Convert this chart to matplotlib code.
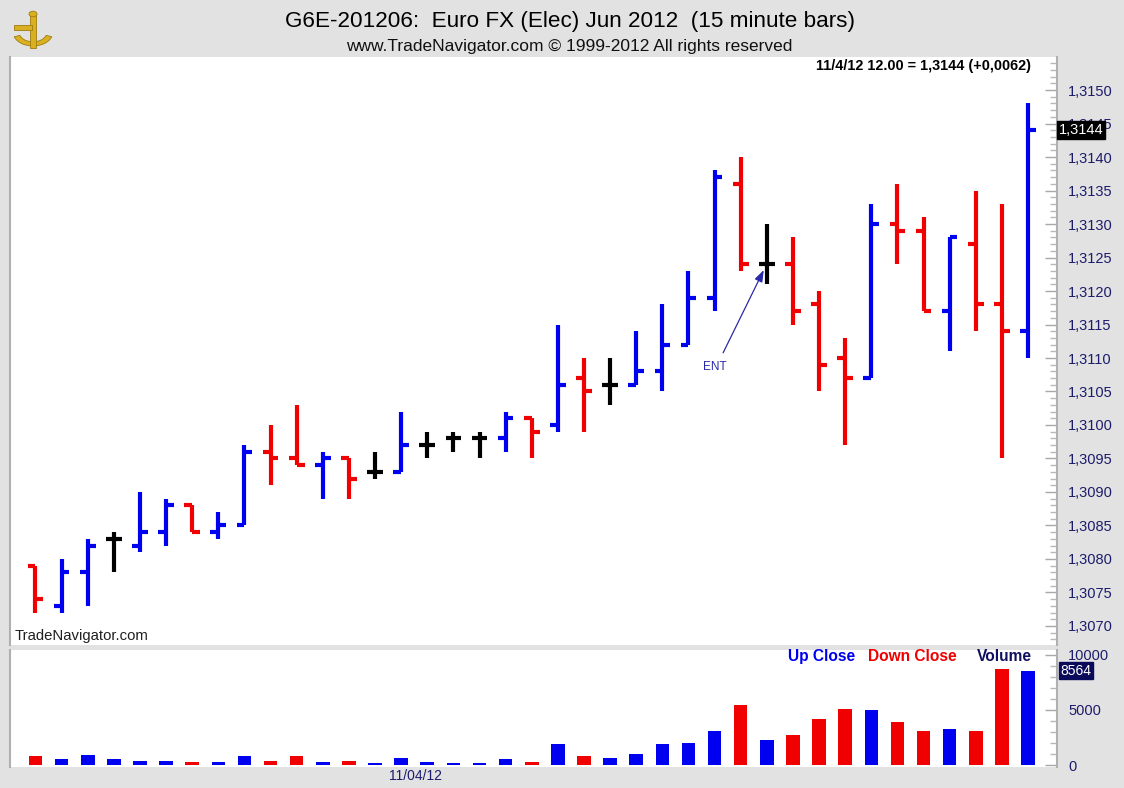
import matplotlib
matplotlib.use("Agg")
import matplotlib.pyplot as plt
import matplotlib.transforms as mtransforms
from matplotlib.ticker import MultipleLocator, FixedLocator, FuncFormatter
from matplotlib.patches import Wedge, Rectangle, Circle

# ---------------- data ----------------
opens = [1.3079, 1.3073, 1.3078, 1.3083, 1.3082, 1.3084, 1.3088, 1.3084, 1.3085, 1.3096,
         1.3095, 1.3094, 1.3095, 1.3093, 1.3093, 1.3097, 1.3098, 1.3098, 1.3098, 1.3101,
         1.3100, 1.3107, 1.3106, 1.3106, 1.3108, 1.3112, 1.3119, 1.3136, 1.3124, 1.3124,
         1.3118, 1.3110, 1.3107, 1.3130, 1.3129, 1.3117, 1.3127, 1.3118, 1.3114]
highs = [1.3079, 1.3080, 1.3083, 1.3084, 1.3090, 1.3089, 1.3088, 1.3087, 1.3097, 1.3100,
         1.3103, 1.3096, 1.3095, 1.3096, 1.3102, 1.3099, 1.3099, 1.3099, 1.3102, 1.3101,
         1.3115, 1.3110, 1.3110, 1.3114, 1.3118, 1.3123, 1.3138, 1.3140, 1.3130, 1.3128,
         1.3120, 1.3113, 1.3133, 1.3136, 1.3131, 1.3128, 1.3135, 1.3133, 1.3148]
lows = [1.3072, 1.3072, 1.3073, 1.3078, 1.3081, 1.3082, 1.3084, 1.3083, 1.3085, 1.3091,
        1.3094, 1.3089, 1.3089, 1.3092, 1.3093, 1.3095, 1.3096, 1.3095, 1.3096, 1.3095,
        1.3099, 1.3099, 1.3103, 1.3106, 1.3105, 1.3112, 1.3117, 1.3123, 1.3121, 1.3115,
        1.3105, 1.3097, 1.3107, 1.3124, 1.3117, 1.3111, 1.3114, 1.3095, 1.3110]
closes = [1.3074, 1.3078, 1.3082, 1.3083, 1.3084, 1.3088, 1.3084, 1.3085, 1.3096, 1.3095,
          1.3094, 1.3095, 1.3092, 1.3093, 1.3097, 1.3097, 1.3098, 1.3098, 1.3101, 1.3099,
          1.3106, 1.3105, 1.3106, 1.3108, 1.3112, 1.3119, 1.3137, 1.3124, 1.3124, 1.3117,
          1.3109, 1.3107, 1.3130, 1.3129, 1.3117, 1.3128, 1.3118, 1.3114, 1.3144]
volumes = [780, 540, 930, 540, 390, 390, 270, 270, 780, 390,
           780, 270, 390, 180, 660, 270, 180, 180, 540, 270,
           1890, 810, 660, 1020, 1890, 2010, 3120, 5490, 2250, 2760,
           4140, 5100, 4980, 3870, 3120, 3270, 3120, 8700, 8564]
price_ticks = [1.3070, 1.3075, 1.3080, 1.3085, 1.3090, 1.3095, 1.3100, 1.3105, 1.3110,
               1.3115, 1.3120, 1.3125, 1.3130, 1.3135, 1.3140, 1.3145, 1.3150]
volume_ticks = [0, 5000, 10000]
date_label = "11/04/12"
last_close_label = "1,3144"
last_volume = 8564
title = "G6E-201206:  Euro FX (Elec) Jun 2012  (15 minute bars)"
subtitle = "www.TradeNavigator.com \u00a9 1999-2012 All rights reserved"
status_line = "11/4/12 12.00 = 1,3144 (+0,0062)"

# ---------------- style ----------------
BLUE = "#0000f0"
RED = "#f00000"
BLACK = "#000000"
NAVY = "#1c1c6c"
BG = "#e2e2e2"
W, H = 1124, 788

def fx(px):
    return px / W

def fy(py):
    return 1 - py / H

def bar_color(o, c):
    if c > o:
        return BLUE
    if c < o:
        return RED
    return BLACK

plt.rcParams["font.family"] = ["Liberation Sans", "DejaVu Sans"]
fig = plt.figure(figsize=(W / 100, H / 100), dpi=100, facecolor=BG)

# ---------------- price panel ----------------
ax = fig.add_axes([fx(10), fy(645), fx(1057) - fx(10), fy(57) - fy(645)])
ax.set_facecolor("white")
n = len(opens)
xs = list(range(n))
tw = 0.3
for i in xs:
    col = bar_color(opens[i], closes[i])
    ax.vlines(i, lows[i], highs[i], color=col, lw=3.0, capstyle="butt")
    ax.hlines(opens[i], i - tw, i, color=col, lw=3.0)
    ax.hlines(closes[i], i, i + tw, color=col, lw=3.0)

ax.set_xlim(-0.976, 39.11)
ax.set_ylim(1.306716, 1.315493)
ax.set_xticks([])
ax.yaxis.tick_right()
ax.yaxis.set_major_locator(FixedLocator(price_ticks))
ax.yaxis.set_minor_locator(MultipleLocator(0.0001))
ax.yaxis.set_major_formatter(FuncFormatter(lambda v, p: f"{v:.4f}".replace(".", ",")))
ax.tick_params(axis="y", which="major", direction="in", length=9, width=1,
               color="#a8a8a8", labelcolor=NAVY, labelsize=10.5, pad=8)
ax.tick_params(axis="y", which="minor", direction="in", length=5, width=1, color="#b8b8b8")
for s in ["top", "bottom"]:
    ax.spines[s].set_visible(False)
for s in ["left", "right"]:
    ax.spines[s].set_color("#b0b0b0")
    ax.spines[s].set_linewidth(1.5)

trans = mtransforms.blended_transform_factory(ax.transAxes, ax.transData)
ax.text(1.002, closes[-1], last_close_label, transform=trans, ha="left", va="center",
        color="white", fontsize=10.5, zorder=10, clip_on=False,
        bbox=dict(boxstyle="square,pad=0.12", fc="black", ec="black"))

ax.text(0.004, 9 / 588, "TradeNavigator.com", transform=ax.transAxes, ha="left",
        va="center", fontsize=10.7, color="#202020")
ax.text(0.9755, 1.0 - 9 / 588, status_line, transform=ax.transAxes, ha="right", va="center",
        fontsize=10.4, fontweight="bold", color="black")

# ENT annotation
ax.annotate("", xy=(27.93, 1.31235), xytext=(26.28, 1.31104),
            arrowprops=dict(arrowstyle="-|>,head_length=0.7,head_width=0.25",
                            color="#2a2aa8", lw=0.9))
ax.text(26.01, 1.31086, "ENT", ha="center", va="center", fontsize=8.5, color="#2a2aa8")

# ---------------- volume panel ----------------
axv = fig.add_axes([fx(10), fy(767), fx(1057) - fx(10), fy(650) - fy(767)])
axv.set_facecolor("white")
vcols = [RED if closes[i] < opens[i] else BLUE for i in xs]
axv.bar(xs, volumes, width=0.52, color=vcols)
axv.set_xlim(-0.976, 39.11)
axv.set_ylim(-180, 10450)
axv.set_xticks([])
axv.yaxis.tick_right()
axv.yaxis.set_major_locator(FixedLocator(volume_ticks))
axv.yaxis.set_minor_locator(MultipleLocator(1000))
axv.tick_params(axis="y", which="major", direction="in", length=9, width=1,
                color="#a8a8a8", labelcolor=NAVY, labelsize=10.5, pad=8)
axv.tick_params(axis="y", which="minor", direction="in", length=5, width=1, color="#b8b8b8")
for s in ["top", "bottom"]:
    axv.spines[s].set_visible(False)
for s in ["left", "right"]:
    axv.spines[s].set_color("#b0b0b0")
    axv.spines[s].set_linewidth(1.5)
transv = mtransforms.blended_transform_factory(axv.transAxes, axv.transData)
axv.text(1.003, last_volume, str(last_volume), transform=transv, ha="left", va="center",
         color="white", fontsize=10, zorder=10, clip_on=False,
         bbox=dict(boxstyle="square,pad=0.1", fc="#0a0a5a", ec="#0a0a5a"))

# volume legend
fig.text(fx(788), fy(661), "Up Close", color=BLUE, fontsize=11.2, fontweight="bold",
         ha="left", va="baseline")
fig.text(fx(868), fy(661), "Down Close", color=RED, fontsize=11.2, fontweight="bold",
         ha="left", va="baseline")
fig.text(fx(1032), fy(661), "Volume", color="#101060", fontsize=11.2, fontweight="bold",
         ha="right", va="baseline")

fig.text(fx(416), fy(776), date_label, color=NAVY, fontsize=10, ha="center", va="center")

# ---------------- header ----------------
fig.text(fx(570), fy(22), title, fontsize=16.2, ha="center", va="center", color="black")
fig.text(fx(569), fy(47), subtitle, fontsize=12.5, ha="center", va="center", color="#101010")

# simple gold sextant logo
gold = "#d8b020"
fig.patches.append(Wedge((fx(33), fy(32)), fx(20), 200, 340, width=fx(6),
                         transform=fig.transFigure, fc=gold, ec="#a07c10", lw=0.6))
fig.patches.append(Rectangle((fx(30), fy(48)), fx(6), fy(14) - fy(48),
                             transform=fig.transFigure, fc=gold, ec="#a07c10", lw=0.6))
fig.patches.append(Rectangle((fx(14), fy(30)), fx(18), fy(25) - fy(30),
                             transform=fig.transFigure, fc=gold, ec="#a07c10", lw=0.6))
fig.patches.append(Circle((fx(33), fy(14)), fx(4), transform=fig.transFigure,
                          fc=gold, ec="#a07c10", lw=0.6))

fig.savefig("out.png", dpi=100, facecolor=BG)
